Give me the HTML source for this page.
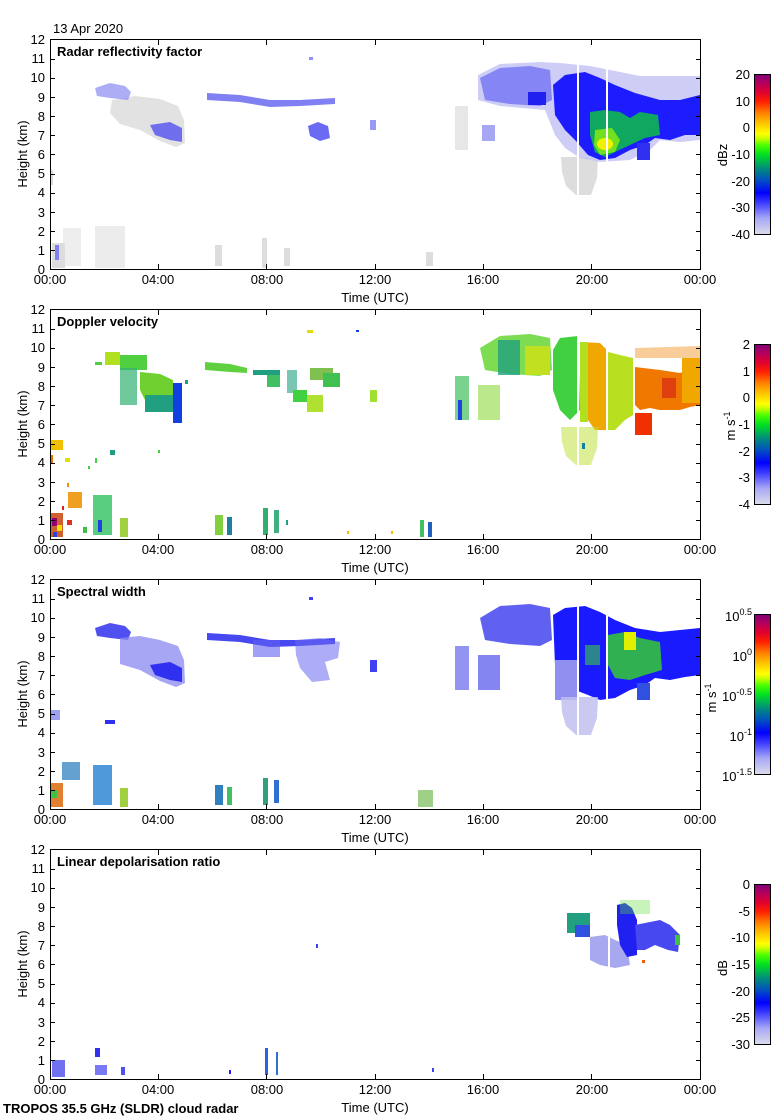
<!DOCTYPE html>
<html><head><meta charset="utf-8"><style>
html,body{margin:0;padding:0;background:#fff;}
svg{display:block;}
text{font-family:"Liberation Sans",Arial,sans-serif;font-size:13px;fill:#000;}
.b{font-weight:bold;}
</style></head><body>
<svg width="780" height="1120" viewBox="0 0 780 1120" xmlns="http://www.w3.org/2000/svg">
<defs>
<linearGradient id="cm" x1="0" y1="1" x2="0" y2="0">
<stop offset="0" stop-color="#dcdcec"/>
<stop offset="0.1" stop-color="#a8a8f6"/>
<stop offset="0.2" stop-color="#3a3aff"/>
<stop offset="0.26" stop-color="#0000ff"/>
<stop offset="0.34" stop-color="#0050c0"/>
<stop offset="0.41" stop-color="#008a80"/>
<stop offset="0.5" stop-color="#00e020"/>
<stop offset="0.56" stop-color="#50ff00"/>
<stop offset="0.6" stop-color="#c8ff00"/>
<stop offset="0.63" stop-color="#ffff00"/>
<stop offset="0.7" stop-color="#ffc000"/>
<stop offset="0.76" stop-color="#ff8000"/>
<stop offset="0.83" stop-color="#ff2000"/>
<stop offset="0.89" stop-color="#e00030"/>
<stop offset="0.95" stop-color="#b00060"/>
<stop offset="1" stop-color="#800078"/>
</linearGradient>
</defs>
<rect width="780" height="1120" fill="#fff"/>

<!-- ================= PANEL 1 DATA ================= -->
<g>
<g fill="#dddddd">
<polygon points="112,100 135,96 160,99 178,106 184,120 185,143 176,147 160,141 140,130 120,124 110,113" opacity="0.85"/>
<rect x="52" y="243" width="13" height="25"/>
<rect x="63" y="228" width="18" height="38" opacity="0.5"/>
<rect x="95" y="226" width="30" height="42" opacity="0.55"/>
<rect x="50" y="170" width="3" height="15"/>
<rect x="215" y="245" width="7" height="21"/>
<rect x="262" y="238" width="5" height="30"/>
<rect x="284" y="248" width="6" height="18"/>
<rect x="426" y="252" width="7" height="14"/>
<rect x="455" y="106" width="13" height="44" opacity="0.7"/>
<polygon points="561,157 598,157 597,178 591,195 576,195 566,186 562,172"/>
</g>
<polygon points="95,88 110,83 125,86 131,92 128,100 110,98 97,96" fill="#8a8af2" opacity="0.7"/>
<polygon points="150,125 170,122 182,128 182,142 170,140 155,135" fill="#5a5af0" opacity="0.85"/>
<polygon points="207,93 240,95 270,100 300,100 335,98 335,104 300,106 270,107 240,102 207,100" fill="#6a6af0" opacity="0.85"/>
<polygon points="308,126 318,122 328,126 330,138 320,141 310,136" fill="#5050f0" opacity="0.85"/>
<rect x="370" y="120" width="6" height="10" fill="#8080f0" opacity="0.8"/>
<rect x="309" y="57" width="4" height="3" fill="#9090f0"/>
<rect x="55" y="245" width="4" height="15" fill="#8080f0"/>
<!-- right cloud -->
<polygon points="478,75 500,64 540,62 560,63 590,66 620,72 640,76 700,76 700,140 680,142 660,140 650,150 630,160 600,162 580,158 565,148 555,135 545,110 500,106 478,100" fill="#c4c4f4" opacity="0.85"/>
<polygon points="480,78 500,68 530,66 550,70 552,100 540,106 510,104 485,100" fill="#7878f4" opacity="0.85"/>
<rect x="528" y="92" width="18" height="13" fill="#2020f0"/>
<rect x="482" y="125" width="13" height="16" fill="#8080f0" opacity="0.7"/>
<polygon points="553,85 565,75 585,72 600,78 615,85 635,93 660,100 680,100 700,95 700,135 685,135 670,140 655,138 645,145 630,150 615,158 600,160 588,155 575,140 565,130 555,115" fill="#1c1cff"/>
<polygon points="590,112 605,110 620,112 630,118 640,112 658,115 660,135 645,138 630,145 615,152 605,157 595,152 590,135" fill="#10a860"/>
<polygon points="595,130 612,128 620,140 615,152 600,155 594,145" fill="#70e020"/>
<ellipse cx="605" cy="144" rx="8" ry="6" fill="#f0f000"/>
<rect x="637" y="143" width="13" height="17" fill="#3030f0"/>
<rect x="577" y="60" width="2" height="140" fill="#fff"/>
<rect x="606" y="60" width="2" height="140" fill="#fff"/>
</g>

<!-- ================= PANEL 2 DATA ================= -->
<g transform="translate(0,270)">
<rect x="95" y="92" width="7" height="3" fill="#50d040"/>
<rect x="105" y="82" width="15" height="13" fill="#b0e020"/>
<rect x="120" y="85" width="27" height="15" fill="#50d040"/>
<rect x="120" y="98" width="17" height="37" fill="#30b070" opacity="0.7"/>
<polygon points="140,102 160,104 173,110 173,142 160,140 145,130 140,120" fill="#70d030"/>
<rect x="145" y="125" width="28" height="17" fill="#20a080"/>
<rect x="173" y="113" width="9" height="40" fill="#1040e0"/>
<rect x="185" y="110" width="3" height="4" fill="#20a080"/>
<polygon points="205,92 230,94 247,98 247,103 230,102 205,100" fill="#60d040"/>
<rect x="253" y="100" width="27" height="5" fill="#20a080"/>
<rect x="267" y="105" width="13" height="12" fill="#40c060"/>
<rect x="287" y="100" width="10" height="23" fill="#20a080" opacity="0.6"/>
<rect x="293" y="120" width="14" height="12" fill="#40d040"/>
<rect x="310" y="98" width="23" height="12" fill="#80c050"/>
<rect x="307" y="125" width="16" height="17" fill="#b0e030"/>
<rect x="323" y="103" width="17" height="14" fill="#40c050"/>
<rect x="370" y="120" width="7" height="12" fill="#a0e030"/>
<rect x="307" y="60" width="6" height="3" fill="#e0e000"/>
<rect x="356" y="60" width="3" height="2" fill="#1040e0"/>
<!-- bottom -->
<rect x="50" y="243" width="13" height="24" fill="#d06030"/>
<rect x="52" y="248" width="5" height="8" fill="#900070"/>
<rect x="57" y="255" width="5" height="6" fill="#f0e000"/>
<rect x="53" y="262" width="4" height="5" fill="#3040e0"/>
<rect x="67" y="250" width="5" height="5" fill="#e03020"/>
<rect x="68" y="222" width="14" height="16" fill="#f0a020"/>
<rect x="62" y="236" width="2" height="4" fill="#e02020"/>
<rect x="93" y="225" width="19" height="40" fill="#30c060" opacity="0.8"/>
<rect x="98" y="250" width="4" height="12" fill="#2040e0"/>
<rect x="83" y="257" width="4" height="6" fill="#40c040"/>
<rect x="120" y="248" width="8" height="19" fill="#a0d040"/>
<rect x="215" y="245" width="8" height="20" fill="#80d040"/>
<rect x="227" y="247" width="5" height="18" fill="#2080a0"/>
<rect x="263" y="238" width="5" height="27" fill="#30b070"/>
<rect x="274" y="240" width="5" height="23" fill="#40b080"/>
<rect x="286" y="250" width="2" height="5" fill="#20a080"/>
<rect x="420" y="250" width="4" height="17" fill="#40c060"/>
<rect x="428" y="252" width="4" height="15" fill="#2060c0"/>
<rect x="347" y="261" width="2" height="3" fill="#f0c000"/>
<rect x="391" y="261" width="2" height="3" fill="#f0c000"/>
<rect x="50" y="170" width="13" height="10" fill="#f0c000"/>
<rect x="50" y="185" width="3" height="8" fill="#f07000"/>
<rect x="65" y="188" width="5" height="4" fill="#e0e000"/>
<rect x="88" y="196" width="2" height="3" fill="#40d040"/>
<rect x="95" y="188" width="2" height="5" fill="#40d040"/>
<rect x="110" y="180" width="5" height="5" fill="#20a080"/>
<rect x="158" y="180" width="2" height="3" fill="#40d040"/>
<rect x="67" y="213" width="2" height="4" fill="#f09000"/>
<!-- right cloud -->
<polygon points="480,78 500,66 530,64 550,68 552,100 540,106 510,104 485,100" fill="#70d840" opacity="0.9"/>
<rect x="498" y="70" width="22" height="35" fill="#20a080" opacity="0.8"/>
<rect x="525" y="76" width="25" height="29" fill="#c0e020"/>
<rect x="455" y="106" width="14" height="44" fill="#40c060" opacity="0.7"/>
<rect x="458" y="130" width="4" height="20" fill="#2040e0"/>
<rect x="478" y="115" width="22" height="35" fill="#90d840" opacity="0.6"/>
<polygon points="553,80 560,68 578,66 580,140 570,150 560,140 553,120" fill="#40d040"/>
<polygon points="580,72 600,73 607,80 607,160 595,160 588,150 580,140" fill="#f0a800"/>
<rect x="580" y="72" width="8" height="80" fill="#b0e020"/>
<polygon points="608,82 620,85 633,88 633,145 625,150 615,160 608,160" fill="#b8e020"/>
<polygon points="635,97 660,100 680,103 690,100 700,95 700,135 690,137 680,140 660,140 650,138 640,140 635,135" fill="#f07800"/>
<rect x="662" y="108" width="14" height="20" fill="#e04010"/>
<rect x="682" y="88" width="18" height="45" fill="#f0a800"/>
<polygon points="635,78 700,76 700,88 635,88" fill="#f09020" opacity="0.45"/>
<rect x="635" y="143" width="17" height="22" fill="#f03000"/>
<polygon points="561,157 598,157 597,178 591,195 576,195 566,186 562,172" fill="#c0e040" opacity="0.55"/>
<rect x="582" y="173" width="3" height="6" fill="#1080a0"/>
<rect x="577" y="60" width="2" height="140" fill="#fff"/>
<rect x="606" y="60" width="2" height="140" fill="#fff"/>
</g>

<!-- ================= PANEL 3 DATA ================= -->
<g transform="translate(0,540)">
<polygon points="95,88 110,83 125,86 131,92 128,100 110,98 97,96" fill="#5050f0"/>
<polygon points="120,98 140,96 160,100 178,106 184,120 185,143 176,147 160,141 140,130 120,124" fill="#8888f0" opacity="0.75"/>
<polygon points="150,125 170,122 182,128 182,142 170,140 155,135" fill="#3030f0"/>
<polygon points="207,93 240,95 270,100 300,100 335,98 335,104 300,106 270,107 240,102 207,100" fill="#4848f0"/>
<rect x="253" y="100" width="27" height="17" fill="#6060f0" opacity="0.6"/>
<polygon points="295,100 320,98 340,102 338,118 325,122 330,140 312,142 300,128 296,115" fill="#6a6af0" opacity="0.55"/>
<rect x="370" y="120" width="7" height="12" fill="#4040f0"/>
<rect x="309" y="57" width="4" height="3" fill="#4040f0"/>
<rect x="50" y="170" width="10" height="10" fill="#a0a0f0"/>
<rect x="105" y="180" width="10" height="4" fill="#3030f0"/>
<rect x="50" y="243" width="13" height="24" fill="#e08030"/>
<rect x="52" y="250" width="5" height="8" fill="#40c040"/>
<rect x="62" y="222" width="18" height="18" fill="#3080c0" opacity="0.75"/>
<rect x="93" y="225" width="19" height="40" fill="#2080d0" opacity="0.8"/>
<rect x="120" y="248" width="8" height="19" fill="#a0d040"/>
<rect x="215" y="245" width="8" height="20" fill="#3080c0"/>
<rect x="227" y="247" width="5" height="18" fill="#40c060"/>
<rect x="263" y="238" width="5" height="27" fill="#30a080"/>
<rect x="274" y="240" width="5" height="23" fill="#3070d0"/>
<rect x="418" y="250" width="15" height="17" fill="#80c060" opacity="0.75"/>
<!-- right cloud -->
<polygon points="480,78 500,66 530,64 550,68 552,100 540,106 510,104 485,100" fill="#5050f0" opacity="0.9"/>
<rect x="455" y="106" width="14" height="44" fill="#8080f0" opacity="0.85"/>
<rect x="478" y="115" width="22" height="35" fill="#7070f0" opacity="0.85"/>
<polygon points="553,75 565,68 585,66 600,72 615,80 635,88 660,92 680,90 700,88 700,135 685,137 670,140 655,138 645,145 630,150 615,158 600,160 588,155 575,150 565,140 555,125" fill="#1a1aff"/>
<rect x="555" y="120" width="22" height="40" fill="#9090f0"/>
<polygon points="608,95 625,92 640,98 660,102 662,130 645,135 630,140 615,138 608,125" fill="#30b050"/>
<rect x="624" y="92" width="12" height="18" fill="#e0f000"/>
<rect x="585" y="105" width="15" height="20" fill="#30a070" opacity="0.8"/>
<polygon points="561,157 598,157 597,178 591,195 576,195 566,186 562,172" fill="#c0c0f0" opacity="0.85"/>
<rect x="637" y="143" width="13" height="17" fill="#3050e0"/>
<rect x="577" y="60" width="2" height="140" fill="#fff"/>
<rect x="606" y="60" width="2" height="140" fill="#fff"/>
</g>

<!-- ================= PANEL 4 DATA ================= -->
<g>
<polygon points="590,937 605,935 615,940 627,945 630,965 615,968 600,965 590,960" fill="#a8a8f0"/>
<polygon points="617,905 625,903 632,908 637,920 637,955 627,957 620,945 617,925" fill="#2020f0"/>
<polygon points="635,925 660,920 670,925 680,935 678,952 668,950 655,945 645,950 637,950" fill="#4848f0"/>
<rect x="567" y="913" width="23" height="20" fill="#20a080"/>
<rect x="575" y="925" width="15" height="12" fill="#3050e0"/>
<rect x="620" y="900" width="30" height="14" fill="#60e040" opacity="0.35"/>
<rect x="675" y="935" width="5" height="10" fill="#40c040"/>
<rect x="642" y="960" width="3" height="3" fill="#f06000"/>
<rect x="608" y="900" width="2" height="70" fill="#fff"/>
<rect x="52" y="1060" width="13" height="17" fill="#7070f0"/>
<rect x="95" y="1048" width="5" height="9" fill="#3030f0"/>
<rect x="95" y="1065" width="12" height="10" fill="#4040f0" opacity="0.7"/>
<rect x="121" y="1067" width="4" height="8" fill="#5050f0"/>
<rect x="229" y="1070" width="2" height="4" fill="#2020f0"/>
<rect x="265" y="1048" width="3" height="27" fill="#3060e0"/>
<rect x="276" y="1052" width="2" height="23" fill="#3070d0"/>
<rect x="316" y="944" width="2" height="4" fill="#4040f0"/>
<rect x="432" y="1068" width="2" height="4" fill="#4040f0"/>
</g>

<!-- ================= AXES ================= -->
<g id="fr" fill="none" stroke="#000" stroke-width="1">
<rect x="50.5" y="39.5" width="650" height="230"/>
<path d="M50,250.5h5M50,231.5h5M50,212.5h5M50,193.5h5M50,174.5h5M50,154.5h5M50,135.5h5M50,116.5h5M50,97.5h5M50,78.5h5M50,59.5h5
M701,250.5h-5M701,231.5h-5M701,212.5h-5M701,193.5h-5M701,174.5h-5M701,154.5h-5M701,135.5h-5M701,116.5h-5M701,97.5h-5M701,78.5h-5M701,59.5h-5
M158.5,269v-5M266.5,269v-5M375.5,269v-5M483.5,269v-5M591.5,269v-5
M158.5,40v5M266.5,40v5M375.5,40v5M483.5,40v5M591.5,40v5"/>
<rect x="754.5" y="74.5" width="16" height="160" fill="url(#cm)"/>
</g>
<use href="#fr" y="270"/>
<use href="#fr" y="540"/>
<use href="#fr" y="810"/>

<!-- ================= TEXT ================= -->
<text x="53" y="33">13 Apr 2020</text>
<text x="3" y="1113" class="b">TROPOS 35.5 GHz (SLDR) cloud radar</text>

<!-- Panel 1 text -->
<g>
<text x="57" y="56" class="b">Radar reflectivity factor</text>
<g text-anchor="end">
<text x="45" y="44">12</text><text x="45" y="63">11</text><text x="45" y="82">10</text><text x="45" y="102">9</text><text x="45" y="121">8</text><text x="45" y="140">7</text><text x="45" y="159">6</text><text x="45" y="178">5</text><text x="45" y="197">4</text><text x="45" y="217">3</text><text x="45" y="236">2</text><text x="45" y="255">1</text><text x="45" y="274">0</text>
</g>
<g text-anchor="middle">
<text x="50" y="284">00:00</text><text x="158" y="284">04:00</text><text x="267" y="284">08:00</text><text x="375" y="284">12:00</text><text x="483" y="284">16:00</text><text x="592" y="284">20:00</text><text x="700" y="284">00:00</text>
<text x="375" y="302">Time (UTC)</text>
<text transform="translate(27,154) rotate(-90)">Height (km)</text>
<text transform="translate(727,155) rotate(-90)">dBz</text>
</g>
<g text-anchor="end">
<text x="750" y="79">20</text><text x="750" y="106">10</text><text x="750" y="132">0</text><text x="750" y="159">-10</text><text x="750" y="186">-20</text><text x="750" y="212">-30</text><text x="750" y="239">-40</text>
</g>
</g>

<!-- Panel 2 text -->
<g>
<text x="57" y="326" class="b">Doppler velocity</text>
<g text-anchor="end">
<text x="45" y="314">12</text><text x="45" y="333">11</text><text x="45" y="352">10</text><text x="45" y="372">9</text><text x="45" y="391">8</text><text x="45" y="410">7</text><text x="45" y="429">6</text><text x="45" y="448">5</text><text x="45" y="467">4</text><text x="45" y="487">3</text><text x="45" y="506">2</text><text x="45" y="525">1</text><text x="45" y="544">0</text>
</g>
<g text-anchor="middle">
<text x="50" y="554">00:00</text><text x="158" y="554">04:00</text><text x="267" y="554">08:00</text><text x="375" y="554">12:00</text><text x="483" y="554">16:00</text><text x="592" y="554">20:00</text><text x="700" y="554">00:00</text>
<text x="375" y="572">Time (UTC)</text>
<text transform="translate(27,424) rotate(-90)">Height (km)</text>
<text transform="translate(735,426) rotate(-90)">m s<tspan dy="-5" font-size="9">-1</tspan></text>
</g>
<g text-anchor="end">
<text x="750" y="349">2</text><text x="750" y="376">1</text><text x="750" y="402">0</text><text x="750" y="429">-1</text><text x="750" y="456">-2</text><text x="750" y="482">-3</text><text x="750" y="509">-4</text>
</g>
</g>

<!-- Panel 3 text -->
<g>
<text x="57" y="596" class="b">Spectral width</text>
<g text-anchor="end">
<text x="45" y="584">12</text><text x="45" y="603">11</text><text x="45" y="622">10</text><text x="45" y="642">9</text><text x="45" y="661">8</text><text x="45" y="680">7</text><text x="45" y="699">6</text><text x="45" y="718">5</text><text x="45" y="737">4</text><text x="45" y="757">3</text><text x="45" y="776">2</text><text x="45" y="795">1</text><text x="45" y="814">0</text>
</g>
<g text-anchor="middle">
<text x="50" y="824">00:00</text><text x="158" y="824">04:00</text><text x="267" y="824">08:00</text><text x="375" y="824">12:00</text><text x="483" y="824">16:00</text><text x="592" y="824">20:00</text><text x="700" y="824">00:00</text>
<text x="375" y="842">Time (UTC)</text>
<text transform="translate(27,694) rotate(-90)">Height (km)</text>
<text transform="translate(716,698) rotate(-90)">m s<tspan dy="-5" font-size="9">-1</tspan></text>
</g>
<g text-anchor="end">
<text x="752" y="621">10<tspan dy="-6" font-size="9">0.5</tspan></text>
<text x="752" y="661">10<tspan dy="-6" font-size="9">0</tspan></text>
<text x="752" y="701">10<tspan dy="-6" font-size="9">-0.5</tspan></text>
<text x="752" y="741">10<tspan dy="-6" font-size="9">-1</tspan></text>
<text x="752" y="781">10<tspan dy="-6" font-size="9">-1.5</tspan></text>
</g>
</g>

<!-- Panel 4 text -->
<g>
<text x="57" y="866" class="b">Linear depolarisation ratio</text>
<g text-anchor="end">
<text x="45" y="854">12</text><text x="45" y="873">11</text><text x="45" y="892">10</text><text x="45" y="912">9</text><text x="45" y="931">8</text><text x="45" y="950">7</text><text x="45" y="969">6</text><text x="45" y="988">5</text><text x="45" y="1007">4</text><text x="45" y="1027">3</text><text x="45" y="1046">2</text><text x="45" y="1065">1</text><text x="45" y="1084">0</text>
</g>
<g text-anchor="middle">
<text x="50" y="1094">00:00</text><text x="158" y="1094">04:00</text><text x="267" y="1094">08:00</text><text x="375" y="1094">12:00</text><text x="483" y="1094">16:00</text><text x="592" y="1094">20:00</text><text x="700" y="1094">00:00</text>
<text x="375" y="1112">Time (UTC)</text>
<text transform="translate(27,964) rotate(-90)">Height (km)</text>
<text transform="translate(727,968) rotate(-90)">dB</text>
</g>
<g text-anchor="end">
<text x="750" y="889">0</text><text x="750" y="916">-5</text><text x="750" y="942">-10</text><text x="750" y="969">-15</text><text x="750" y="996">-20</text><text x="750" y="1022">-25</text><text x="750" y="1049">-30</text>
</g>
</g>
</svg>
</body></html>
